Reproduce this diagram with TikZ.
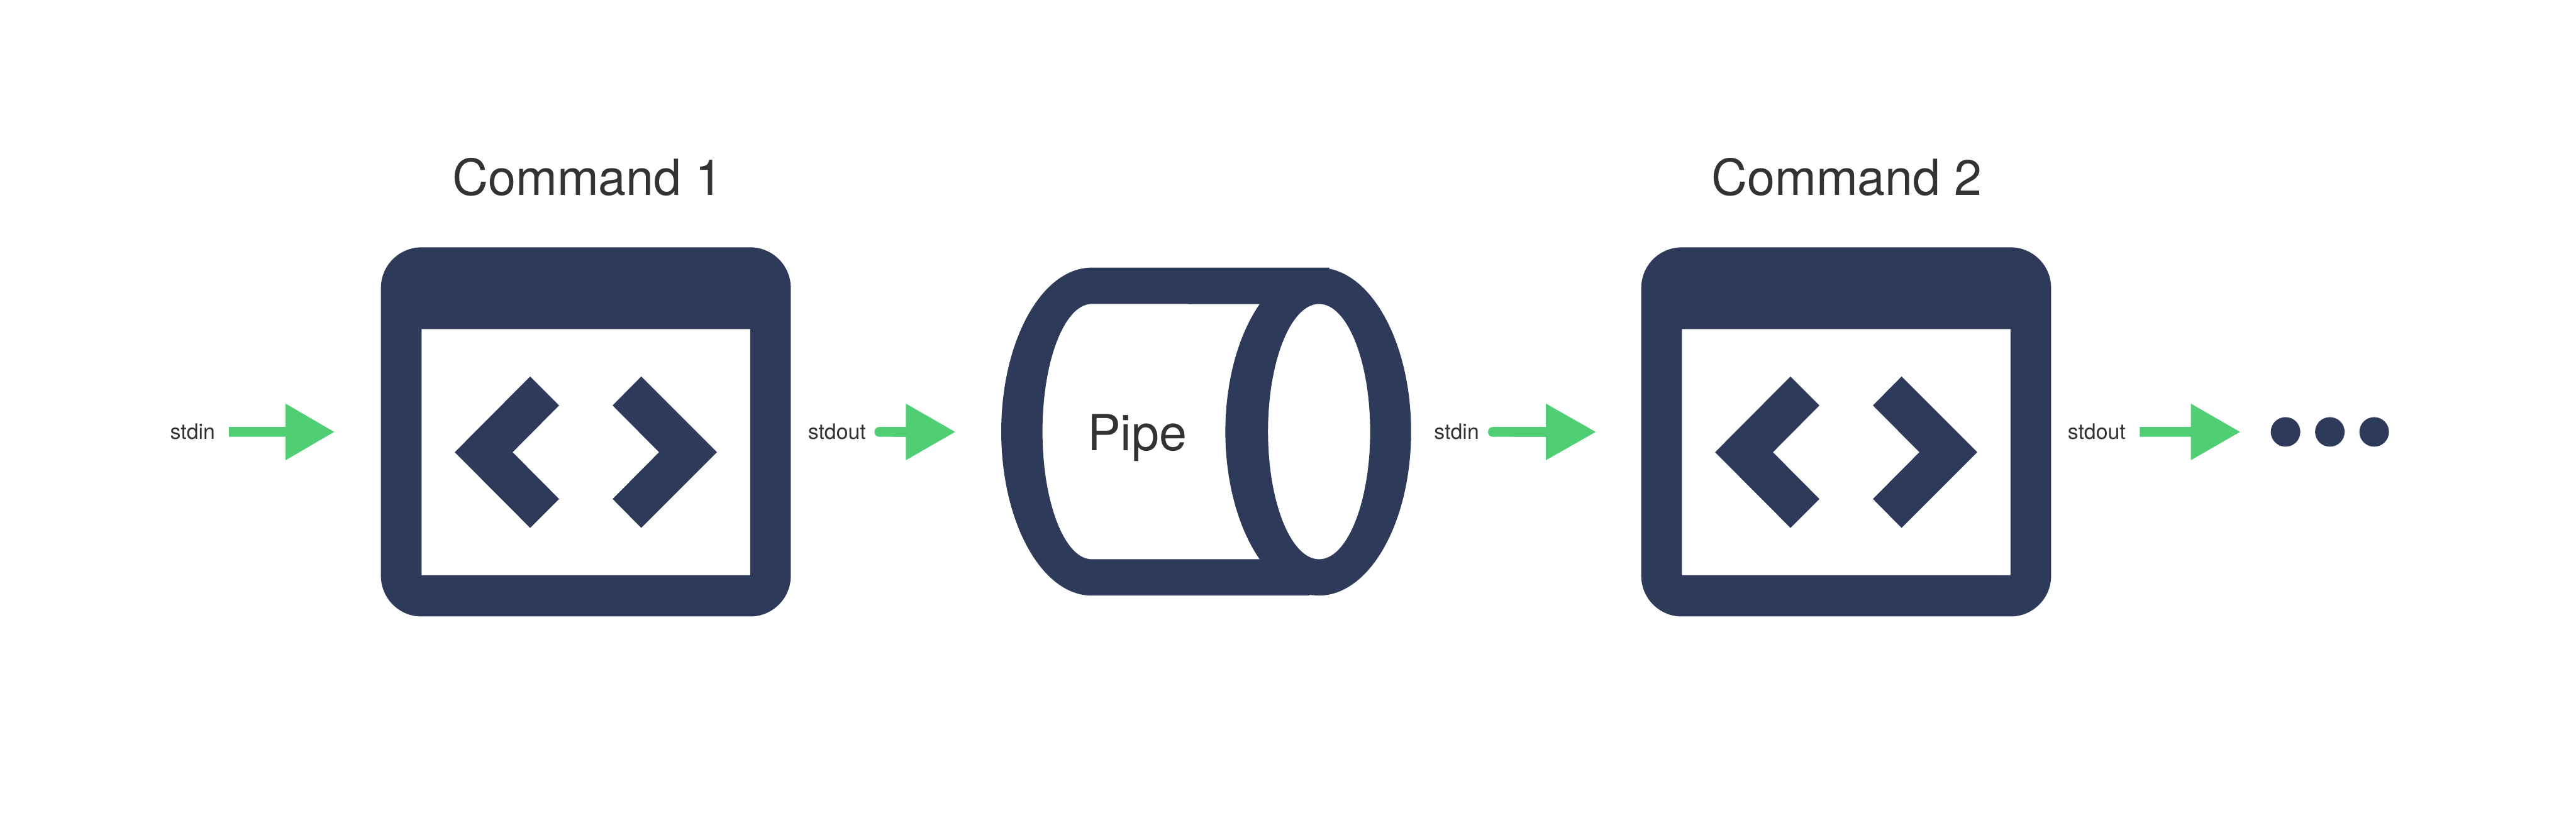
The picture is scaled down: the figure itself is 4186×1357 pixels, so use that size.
\documentclass[tikz,border=0pt]{standalone}
\usepackage{fontspec}
\setmainfont{TeX Gyre Heros}
\definecolor{navy}{HTML}{2E3A59}
\definecolor{grn}{HTML}{4FCE74}
\definecolor{ink}{HTML}{333333}
\tikzset{
  x=0.24pt,y=-0.24pt,
  solidnavy/.style={fill=navy,draw=none,even odd rule},
  title/.style={text=ink,font=\fontsize{19.4pt}{22pt}\selectfont,inner sep=0pt,anchor=base},
  small/.style={text=ink,font=\fontsize{8.3pt}{10pt}\selectfont,inner sep=0pt,anchor=base},
  flowarrow/.style={fill=grn,draw=none}
}
\newcommand{\winshape}[1]{%
  \begin{scope}[shift={(#1,0)}]
  \fill[solidnavy] (685,402) -- (1219,402) arc[start angle=90,end angle=0,radius=66*0.24pt] -- (1285,936)
    arc[start angle=0,end angle=-90,radius=66*0.24pt] -- (685,1002)
    arc[start angle=270,end angle=180,radius=66*0.24pt] -- (619,468)
    arc[start angle=180,end angle=90,radius=66*0.24pt] -- cycle
    (685,535) -- (1219,535) -- (1219,935) -- (685,935) -- cycle;
  \fill[navy] (739,735) -- (861.5,612) -- (908.5,659) -- (833,735) -- (908.5,811) -- (861.5,858) -- cycle;
  \fill[navy] (1165,735) -- (1042,612) -- (995.5,659) -- (1071,735) -- (995.5,811) -- (1042,858) -- cycle;
  \end{scope}}
\newcommand{\flowarr}[3]{% start, base, tip
  \fill[flowarrow] (#1,694) -- (#2,694) -- (#2,656) -- (#3,702) -- (#2,748) -- (#2,710) -- (#1,710) -- cycle;}
\begin{document}
\begin{tikzpicture}
\useasboundingbox (0,0) rectangle (4186,1357);
\fill[white] (0,0) rectangle (4186,1357);
\winshape{0}
\winshape{2048}
% pipe
\fill[solidnavy]
  (2160,435) -- (1774,435)
  arc[start angle=90,end angle=270,x radius=147*0.24pt,y radius=266.5*0.24pt]
  -- (2127,968) -- (2127,967) -- (2143,968)
  arc[start angle=-90,end angle=83.5,x radius=150*0.24pt,y radius=266.5*0.24pt]
  -- cycle
  (1774,494) arc[start angle=90,end angle=270,x radius=80*0.24pt,y radius=207.5*0.24pt]
  -- (2047,909)
  arc[start angle=231.1,end angle=128.9,x radius=150*0.24pt,y radius=266.5*0.24pt]
  -- cycle
  (2143.5,494) arc[start angle=90,end angle=450,x radius=83*0.24pt,y radius=207.5*0.24pt];
% arrows
\flowarr{372}{464}{543}
\fill[flowarrow,rounded corners=1.9pt] (1421,694) -- (1490,694) -- (1490,710) -- (1421,710) -- cycle;
\flowarr{1450}{1472}{1552}
\fill[flowarrow,rounded corners=1.9pt] (2418,694) -- (2530,694) -- (2530,710) -- (2418,710) -- cycle;
\flowarr{2460}{2512}{2593}
\flowarr{3477}{3560}{3640}
\foreach \n/\cx in {d1/3714,d2/3786,d3/3858}
  \fill[navy] (\cx,702) circle[radius=24*0.24pt];
% text
\node[title] (c1) at (955,317) {Command 1};
\node[title] (c2) at (3001,317) {Command 2};
\node[title] (pipe) at (1848,732) {Pipe};
\node[small] (in1) at (313,714) {stdin};
\node[small] (out1) at (1360,714) {stdout};
\node[small] (in2) at (2367,714) {stdin};
\node[small] (out2) at (3407,714) {stdout};
\end{tikzpicture}
\end{document}
